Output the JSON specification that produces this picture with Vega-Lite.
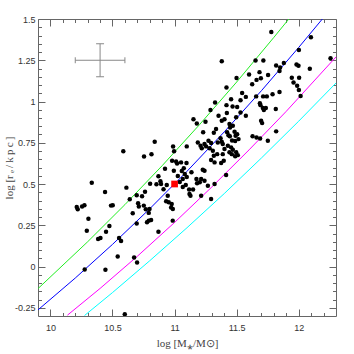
{
  "$schema": "https://vega.github.io/schema/vega-lite/v6.json",
  "width": 298,
  "height": 297,
  "autosize": {"type": "none"},
  "padding": {"left": 38, "top": 19, "right": 18, "bottom": 38},
  "background": "white",
  "config": {
    "view": {"stroke": "#666", "strokeWidth": 1},
    "axis": {
      "domain": false, "grid": false, "tickColor": "#666", "tickWidth": 1,
      "labelFont": "Liberation Sans", "labelFontSize": 9, "labelColor": "#333",
      "titleFont": "Liberation Serif", "titleFontSize": 11, "titleFontWeight": "normal", "titleColor": "#444"
    }
  },
  "datasets": {
    "pts": [
      {"x":10.333,"y":0.508},{"x":10.440,"y":0.452},{"x":10.212,"y":0.361},{"x":10.220,"y":0.347},{"x":10.255,"y":0.363},{"x":10.274,"y":0.371},{"x":10.488,"y":0.369},{"x":10.502,"y":0.371},{"x":10.306,"y":0.290},{"x":10.293,"y":0.216},{"x":10.475,"y":0.246},{"x":10.448,"y":0.210},{"x":10.384,"y":0.167},{"x":10.403,"y":0.173},{"x":10.553,"y":0.173},{"x":10.569,"y":0.155},{"x":10.695,"y":0.260},{"x":10.542,"y":0.060},{"x":10.276,"y":-0.018},{"x":10.443,"y":-0.020},{"x":10.674,"y":0.054},{"x":10.698,"y":0.024},{"x":10.599,"y":-0.289},{"x":10.778,"y":0.268},{"x":10.792,"y":0.278},{"x":10.811,"y":0.282},{"x":10.985,"y":0.278},{"x":10.870,"y":0.211},
      {"x":10.840,"y":0.756},{"x":10.587,"y":0.698},{"x":10.754,"y":0.666},{"x":10.814,"y":0.680},{"x":10.988,"y":0.727},{"x":10.996,"y":0.698},{"x":11.098,"y":0.728},{"x":11.152,"y":0.893},{"x":11.179,"y":0.867},{"x":10.980,"y":0.641},{"x":11.012,"y":0.637},{"x":11.020,"y":0.624},{"x":11.052,"y":0.631},{"x":10.923,"y":0.593},{"x":10.994,"y":0.580},{"x":11.058,"y":0.579},{"x":11.082,"y":0.561},{"x":11.098,"y":0.542},{"x":11.066,"y":0.530},{"x":10.870,"y":0.547},{"x":10.886,"y":0.516},{"x":10.612,"y":0.478},{"x":10.803,"y":0.502},{"x":10.854,"y":0.498},{"x":10.891,"y":0.500},{"x":10.937,"y":0.494},{"x":10.911,"y":0.468},{"x":10.945,"y":0.429},{"x":10.639,"y":0.407},{"x":10.695,"y":0.432},{"x":10.738,"y":0.426},{"x":10.762,"y":0.453},{"x":10.706,"y":0.383},{"x":10.712,"y":0.363},{"x":10.752,"y":0.369},{"x":10.768,"y":0.347},{"x":10.798,"y":0.349},{"x":10.932,"y":0.395},{"x":10.953,"y":0.389},{"x":10.977,"y":0.379},{"x":10.972,"y":0.357},{"x":10.986,"y":0.349},{"x":10.663,"y":0.323},{"x":10.792,"y":0.325},{"x":11.120,"y":0.440},{"x":11.128,"y":0.429},{"x":11.136,"y":0.571},{"x":11.176,"y":0.530},{"x":11.181,"y":0.504},{"x":11.117,"y":0.466},{"x":11.149,"y":0.466},{"x":11.096,"y":0.627},{"x":11.074,"y":0.595},{"x":11.203,"y":0.510},{"x":11.026,"y":0.548},{"x":11.042,"y":0.512},{"x":11.090,"y":0.494},{"x":11.066,"y":0.482},{"x":11.230,"y":0.813},
      {"x":11.467,"y":0.970},{"x":11.421,"y":0.930},{"x":11.496,"y":0.904},{"x":11.531,"y":0.934},{"x":11.380,"y":0.883},{"x":11.402,"y":0.893},{"x":11.249,"y":0.877},{"x":11.442,"y":0.863},{"x":11.447,"y":0.843},{"x":11.469,"y":0.853},{"x":11.334,"y":0.833},{"x":11.316,"y":0.810},{"x":11.423,"y":0.813},{"x":11.434,"y":0.796},{"x":11.445,"y":0.789},{"x":11.370,"y":0.778},{"x":11.483,"y":0.816},{"x":11.491,"y":0.792},{"x":11.504,"y":0.802},{"x":11.515,"y":0.772},{"x":11.488,"y":0.760},{"x":11.463,"y":0.764},{"x":11.697,"y":0.883},{"x":11.705,"y":0.869},{"x":11.689,"y":0.776},{"x":11.751,"y":0.762},{"x":11.818,"y":0.819},{"x":11.187,"y":0.752},{"x":11.209,"y":0.732},{"x":11.219,"y":0.716},{"x":11.241,"y":0.742},{"x":11.273,"y":0.762},{"x":11.294,"y":0.748},{"x":11.254,"y":0.728},{"x":11.282,"y":0.716},{"x":11.308,"y":0.702},{"x":11.348,"y":0.752},{"x":11.380,"y":0.756},{"x":11.388,"y":0.742},{"x":11.429,"y":0.732},{"x":11.402,"y":0.712},{"x":11.455,"y":0.722},{"x":11.469,"y":0.708},{"x":11.496,"y":0.692},{"x":11.509,"y":0.675},{"x":11.316,"y":0.671},{"x":11.343,"y":0.681},{"x":11.294,"y":0.645},{"x":11.322,"y":0.631},{"x":11.388,"y":0.681},{"x":11.396,"y":0.641},{"x":11.375,"y":0.627},{"x":11.442,"y":0.692},{"x":11.461,"y":0.681},{"x":11.488,"y":0.668},{"x":11.227,"y":0.587},{"x":11.241,"y":0.580},{"x":11.214,"y":0.530},{"x":11.241,"y":0.520},{"x":11.268,"y":0.490},{"x":11.322,"y":0.500},{"x":11.415,"y":0.554},{"x":11.214,"y":0.429},{"x":11.294,"y":0.409},{"x":11.628,"y":0.789},{"x":11.660,"y":0.782},
      {"x":11.779,"y":1.421},{"x":12.098,"y":1.390},{"x":11.380,"y":1.244},{"x":11.652,"y":1.249},{"x":11.715,"y":1.249},{"x":12.001,"y":1.312},{"x":12.256,"y":1.262},{"x":11.818,"y":1.218},{"x":11.850,"y":1.206},{"x":11.845,"y":1.185},{"x":11.880,"y":1.234},{"x":11.982,"y":1.224},{"x":11.998,"y":1.216},{"x":12.089,"y":1.198},{"x":11.684,"y":1.178},{"x":11.600,"y":1.164},{"x":11.695,"y":1.141},{"x":11.660,"y":1.131},{"x":11.625,"y":1.105},{"x":11.753,"y":1.161},{"x":11.499,"y":1.143},{"x":11.418,"y":1.085},{"x":11.944,"y":1.144},{"x":12.003,"y":1.144},{"x":11.958,"y":1.115},{"x":11.987,"y":1.095},{"x":12.001,"y":1.070},{"x":12.015,"y":1.034},{"x":11.544,"y":1.051},{"x":11.574,"y":1.028},{"x":11.455,"y":1.014},{"x":11.657,"y":1.031},{"x":11.713,"y":1.031},{"x":11.743,"y":1.031},{"x":11.789,"y":1.044},{"x":11.845,"y":1.058},{"x":11.326,"y":0.994},{"x":11.289,"y":0.948},{"x":11.354,"y":0.913},{"x":11.418,"y":0.978},{"x":11.531,"y":1.008},{"x":11.687,"y":0.990},{"x":11.692,"y":0.978},{"x":11.711,"y":0.960},{"x":11.735,"y":0.960},{"x":11.719,"y":0.948},{"x":11.815,"y":0.954},{"x":11.574,"y":0.913},{"x":11.504,"y":0.966}
    ],
    "curves": [
      {"c":"green","x":9.9,"y":-0.134},{"c":"green","x":10.3,"y":0.150},{"c":"green","x":10.6,"y":0.375},{"c":"green","x":10.9,"y":0.611},{"c":"green","x":11.2,"y":0.859},{"c":"green","x":11.5,"y":1.118},{"c":"green","x":11.8,"y":1.389},{"c":"green","x":11.92,"y":1.5},
      {"c":"blue","x":9.9,"y":-0.263},{"c":"blue","x":10.2,"y":-0.070},{"c":"blue","x":10.5,"y":0.134},{"c":"blue","x":10.8,"y":0.350},{"c":"blue","x":11.1,"y":0.577},{"c":"blue","x":11.4,"y":0.816},{"c":"blue","x":11.7,"y":1.066},{"c":"blue","x":12.0,"y":1.328},{"c":"blue","x":12.19,"y":1.5},
      {"c":"magenta","x":10.137,"y":-0.295},{"c":"magenta","x":10.4,"y":-0.133},{"c":"magenta","x":10.7,"y":0.062},{"c":"magenta","x":11.0,"y":0.267},{"c":"magenta","x":11.3,"y":0.482},{"c":"magenta","x":11.6,"y":0.707},{"c":"magenta","x":11.9,"y":0.941},{"c":"magenta","x":12.3,"y":1.27},
      {"c":"cyan","x":10.275,"y":-0.297},{"c":"cyan","x":10.5,"y":-0.158},{"c":"cyan","x":10.8,"y":0.035},{"c":"cyan","x":11.1,"y":0.235},{"c":"cyan","x":11.4,"y":0.442},{"c":"cyan","x":11.7,"y":0.658},{"c":"cyan","x":12.0,"y":0.881},{"c":"cyan","x":12.3,"y":1.112}
    ],
    "red": [{"x":11.0,"y":0.5}],
    "err": [
      {"x":10.2,"x2":10.6,"y":1.25,"y2":1.25},
      {"x":10.4,"x2":10.4,"y":1.15,"y2":1.35},
      {"x":10.2,"x2":10.2,"y":1.232,"y2":1.268},
      {"x":10.6,"x2":10.6,"y":1.232,"y2":1.268},
      {"x":10.368,"x2":10.432,"y":1.35,"y2":1.35},
      {"x":10.368,"x2":10.432,"y":1.15,"y2":1.15}
    ]
  },
  "layer": [
    {
      "data": {"name": "curves"},
      "mark": {"type": "line", "strokeWidth": 1, "clip": true},
      "encoding": {
        "x": {"field": "x", "type": "quantitative", "scale": {"domain": [9.9, 12.3], "nice": false, "zero": false},
          "axis": {"orient": "bottom", "values": [10, 10.5, 11, 11.5, 12], "tickSize": -7, "labelPadding": 14, "labelExpr": "'' + datum.value", "labelFlush": false, "title": "log [M⁎/M⊙]", "titlePadding": 5}},
        "y": {"field": "y", "type": "quantitative", "scale": {"domain": [-0.3, 1.5], "nice": false, "zero": false},
          "axis": {"orient": "left", "values": [-0.25, 0, 0.25, 0.5, 0.75, 1, 1.25, 1.5], "tickSize": -7, "labelPadding": 10, "labelExpr": "'' + datum.value", "labelFlush": false, "title": "log  [r\u2009ₑ\u2009/\u2009k\u2009p\u2009c\u2009]", "titleFontSize": 11, "titlePadding": 0}},
        "color": {"field": "c", "type": "nominal", "scale": {"domain": ["green", "blue", "magenta", "cyan"], "range": ["#22ee22", "#0000ff", "#ff00ff", "#00ffff"]}, "legend": null}
      }
    },
    {
      "data": {"name": "err"},
      "mark": {"type": "rule", "color": "#888", "strokeWidth": 1},
      "encoding": {
        "x": {"field": "x", "type": "quantitative", "scale": {"domain": [9.9, 12.3], "nice": false, "zero": false},
          "axis": {"orient": "top", "values": [10, 10.5, 11, 11.5, 12], "tickSize": -7, "labels": false, "title": null}},
        "x2": {"field": "x2"},
        "y": {"field": "y", "type": "quantitative", "scale": {"domain": [-0.3, 1.5], "nice": false, "zero": false},
          "axis": {"orient": "right", "values": [-0.25, 0, 0.25, 0.5, 0.75, 1, 1.25, 1.5], "tickSize": -7, "labels": false, "title": null}},
        "y2": {"field": "y2"}
      }
    },
    {
      "data": {"name": "pts"},
      "mark": {"type": "circle", "color": "black", "size": 20, "opacity": 1, "clip": true},
      "encoding": {
        "x": {"field": "x", "type": "quantitative", "scale": {"domain": [9.9, 12.3], "nice": false, "zero": false},
          "axis": {"orient": "bottom", "values": [10, 10.1, 10.2, 10.3, 10.4, 10.5, 10.6, 10.7, 10.8, 10.9, 11, 11.1, 11.2, 11.3, 11.4, 11.5, 11.6, 11.7, 11.8, 11.9, 12, 12.1, 12.2], "tickSize": -3.5, "labels": false, "title": null}},
        "y": {"field": "y", "type": "quantitative", "scale": {"domain": [-0.3, 1.5], "nice": false, "zero": false},
          "axis": {"orient": "left", "values": [-0.25, -0.2, -0.15, -0.1, -0.05, 0, 0.05, 0.1, 0.15, 0.2, 0.25, 0.3, 0.35, 0.4, 0.45, 0.5, 0.55, 0.6, 0.65, 0.7, 0.75, 0.8, 0.85, 0.9, 0.95, 1, 1.05, 1.1, 1.15, 1.2, 1.25, 1.3, 1.35, 1.4, 1.45], "tickSize": -3.5, "labels": false, "title": null}}
      }
    },
    {
      "data": {"name": "red"},
      "mark": {"type": "square", "color": "#ff0000", "size": 45, "opacity": 1},
      "encoding": {
        "x": {"field": "x", "type": "quantitative", "scale": {"domain": [9.9, 12.3], "nice": false, "zero": false},
          "axis": {"orient": "top", "values": [10, 10.1, 10.2, 10.3, 10.4, 10.5, 10.6, 10.7, 10.8, 10.9, 11, 11.1, 11.2, 11.3, 11.4, 11.5, 11.6, 11.7, 11.8, 11.9, 12, 12.1, 12.2], "tickSize": -3.5, "labels": false, "title": null}},
        "y": {"field": "y", "type": "quantitative", "scale": {"domain": [-0.3, 1.5], "nice": false, "zero": false},
          "axis": {"orient": "right", "values": [-0.25, -0.2, -0.15, -0.1, -0.05, 0, 0.05, 0.1, 0.15, 0.2, 0.25, 0.3, 0.35, 0.4, 0.45, 0.5, 0.55, 0.6, 0.65, 0.7, 0.75, 0.8, 0.85, 0.9, 0.95, 1, 1.05, 1.1, 1.15, 1.2, 1.25, 1.3, 1.35, 1.4, 1.45], "tickSize": -3.5, "labels": false, "title": null}}
      }
    }
  ],
  "resolve": {"axis": {"x": "independent", "y": "independent"}}
}
